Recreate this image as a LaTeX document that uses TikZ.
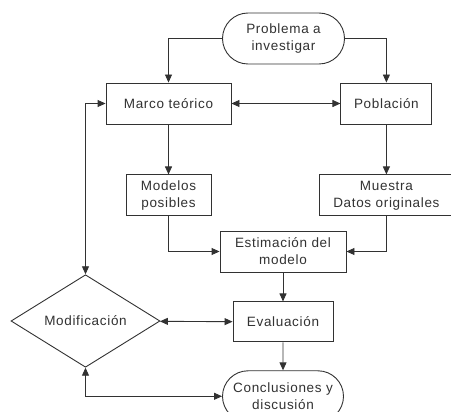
\documentclass[tikz,border=0pt]{standalone}
\usepackage{fontspec}
\setmainfont{Liberation Sans}[LetterSpace=5]
\usetikzlibrary{shapes.geometric, shapes.misc, arrows.meta, positioning}
\definecolor{linecolor}{RGB}{50,50,50}

\begin{document}
\begin{tikzpicture}[
    x=1pt, y=-1pt,
    >={Triangle[length=8pt,width=7pt]},
    every node/.style={font=\fontsize{13.5}{17}\selectfont, text=linecolor},
    procbox/.style={rectangle, draw=linecolor, fill=white, line width=0.9pt,
        minimum height=41pt, align=center, inner sep=2pt},
    termbox/.style={rounded rectangle, draw=linecolor, fill=white, line width=0.9pt,
        minimum width=126pt, minimum height=51pt, align=center, inner sep=2pt},
    decbox/.style={diamond, draw=linecolor, fill=white, line width=0.9pt,
        minimum width=149pt, minimum height=75pt, inner sep=0pt},
    arrow/.style={->, line width=0.9pt, linecolor},
    biarrow/.style={<->, line width=0.9pt, linecolor},
]
\useasboundingbox (0,0) rectangle (451,412);
\clip (0,0) rectangle (451,412);

% === TOP ===
\node[termbox] (problema) at (283.5,38.5) {Problema a\\investigar};

\node[procbox, minimum width=125pt] (marco) at (168.5,103.5) {Marco teórico};
\node[procbox, minimum width=91pt, right=109pt of marco] (poblacion) {Población};

% === MIDDLE ===
\node[procbox, minimum width=85pt, below=50pt of marco] (modelos) {Modelos\\posibles};
\node[procbox, minimum width=134pt, below=50pt of poblacion] (muestra) {Muestra\\Datos originales};

\node[procbox, minimum width=126pt] (estim) at (283,251.5) {Estimación del\\modelo};

% === BOTTOM ===
\node[procbox, minimum width=100pt, minimum height=40pt, below=29pt of estim] (eval) {Evaluación};
\node[termbox, minimum width=125pt, below=28pt of eval] (concl) {Conclusiones y\\discusión};

\node[decbox] (modif) at (85.5,321) {Modificación};

% === ARROWS ===
\draw[arrow] (problema.west) -| (marco.north);
\draw[arrow] (problema.east) -| (poblacion.north);
\draw[biarrow] (marco) -- (poblacion);

\draw[arrow] (marco) -- (modelos);
\draw[arrow] (poblacion) -- (muestra);
\draw[arrow] (modelos.south) |- (estim.west);
\draw[arrow] (muestra.south) |- (estim.east);

\draw[arrow] (estim) -- (eval);
\draw[arrow] (eval) -- (concl);
\draw[biarrow] (modif) -- (eval);

% Feedback loop
\draw[biarrow] (modif.north) |- (marco.west);
\draw[biarrow] (modif.south) |- (concl.west);

\end{tikzpicture}
\end{document}
